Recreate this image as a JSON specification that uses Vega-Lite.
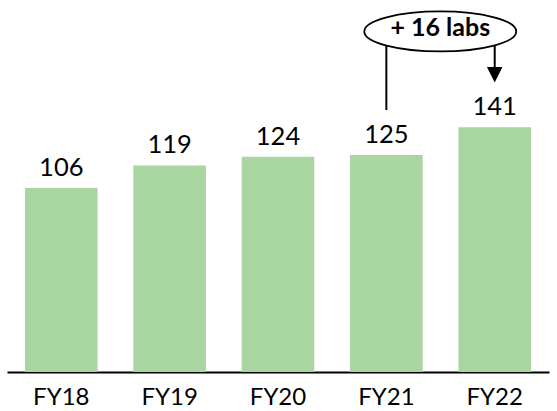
{
  "$schema": "https://vega.github.io/schema/vega-lite/v6.json",
  "width": 542,
  "height": 372,
  "autosize": {"type": "none"},
  "padding": {"left": 7, "top": 0, "right": 8, "bottom": 39},
  "background": "white",
  "config": {"view": {"stroke": null}, "font": "Lato"},
  "datasets": {
    "bars": [
      {"year": "FY18", "labs": 106},
      {"year": "FY19", "labs": 119},
      {"year": "FY20", "labs": 124},
      {"year": "FY21", "labs": 125},
      {"year": "FY22", "labs": 141}
    ],
    "lines": [
      {"year": "FY21", "from": 188.4, "to": 150.9},
      {"year": "FY22", "from": 188.4, "to": 174.0}
    ],
    "heads": [
      {"year": "FY22", "at": 171.2}
    ],
    "bubble": [
      {"year": "FY21", "at": 196.2, "textAt": 193.4, "label": "+ 16 labs"}
    ]
  },
  "layer": [
    {
      "data": {"name": "bars"},
      "mark": {"type": "bar", "color": "#a8d5a0"},
      "encoding": {
        "x": {
          "field": "year", "type": "nominal", "sort": null,
          "scale": {"paddingInner": 0.33, "paddingOuter": 0.166},
          "axis": {
            "title": null, "labelAngle": 0, "ticks": false, "grid": false,
            "domainColor": "black", "domainWidth": 2,
            "labelFont": "Lato", "labelFontSize": 24, "labelColor": "black",
            "labelPadding": 13
          }
        },
        "y": {
          "field": "labs", "type": "quantitative",
          "scale": {"domain": [0, 214.3], "nice": false, "zero": true},
          "axis": null
        }
      }
    },
    {
      "data": {"name": "bars"},
      "mark": {"type": "text", "baseline": "alphabetic", "dy": -12, "fontSize": 25.5, "font": "Lato", "color": "black"},
      "encoding": {
        "x": {"field": "year", "type": "nominal", "sort": null},
        "y": {"field": "labs", "type": "quantitative"},
        "text": {"field": "labs", "type": "quantitative"}
      }
    },
    {
      "data": {"name": "lines"},
      "mark": {"type": "rule", "color": "black", "strokeWidth": 2},
      "encoding": {
        "x": {"field": "year", "type": "nominal", "sort": null},
        "y": {"field": "from", "type": "quantitative"},
        "y2": {"field": "to"}
      }
    },
    {
      "data": {"name": "heads"},
      "mark": {"type": "point", "shape": "M-1,-1L1,-1L0,1Z", "size": 240, "filled": true, "color": "black", "opacity": 1},
      "encoding": {
        "x": {"field": "year", "type": "nominal", "sort": null},
        "y": {"field": "at", "type": "quantitative"}
      }
    },
    {
      "data": {"name": "bubble"},
      "mark": {"type": "point", "shape": "M-1,0A1,0.263,0,1,0,1,0A1,0.263,0,1,0,-1,0Z", "size": 23104, "filled": false, "fill": "white", "fillOpacity": 1, "stroke": "black", "strokeWidth": 1.8, "opacity": 1},
      "encoding": {
        "x": {"field": "year", "type": "nominal", "sort": null, "bandPosition": 1.2425},
        "y": {"field": "at", "type": "quantitative"}
      }
    },
    {
      "data": {"name": "bubble"},
      "mark": {"type": "text", "baseline": "alphabetic", "fontSize": 25, "fontWeight": "bold", "font": "Lato", "color": "black"},
      "encoding": {
        "x": {"field": "year", "type": "nominal", "sort": null, "bandPosition": 1.2425},
        "y": {"field": "textAt", "type": "quantitative"},
        "text": {"field": "label", "type": "nominal"}
      }
    }
  ]
}
